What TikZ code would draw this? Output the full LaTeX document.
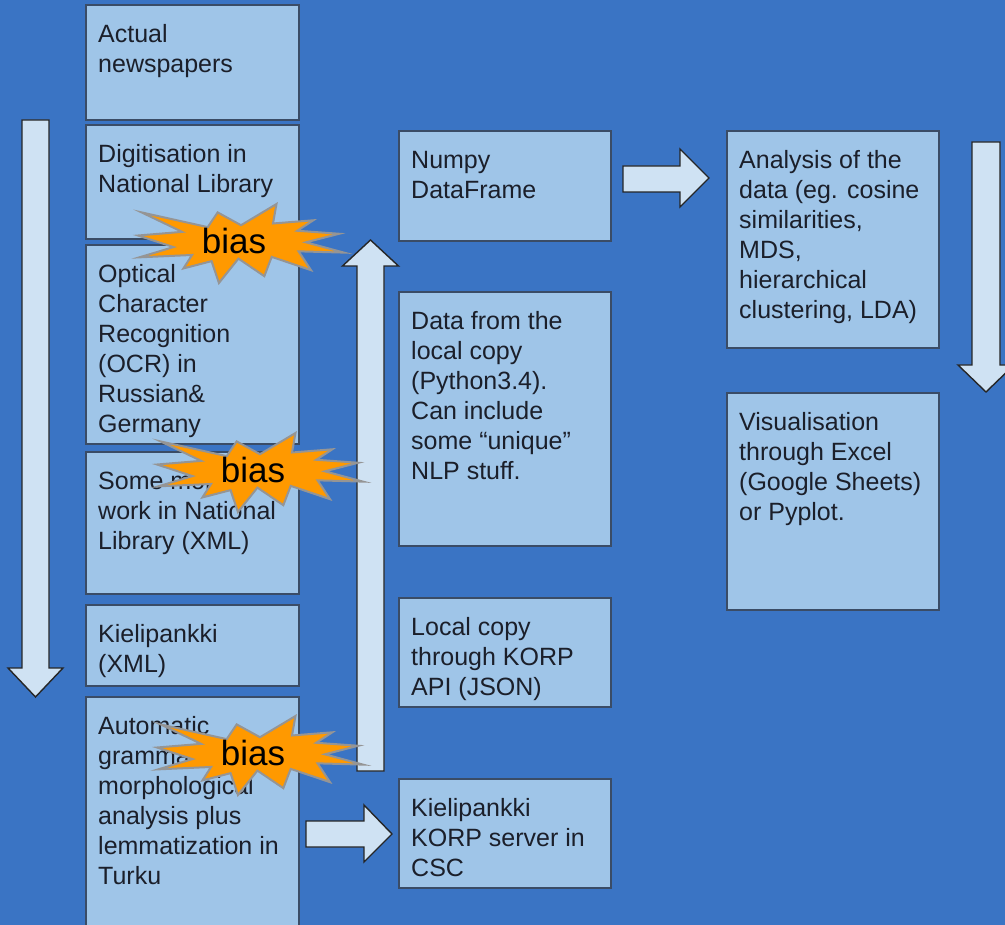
\documentclass[tikz,border=0pt]{standalone}
\usepackage{fontspec}
\setmainfont{Liberation Sans}
\definecolor{slidebg}{HTML}{3A74C4}
\definecolor{cardfill}{HTML}{9FC5E8}
\definecolor{cardline}{HTML}{3A4C66}
\definecolor{arrowfill}{HTML}{CFE2F3}
\definecolor{burstfill}{HTML}{FF9900}
\definecolor{burstline}{HTML}{959595}
\definecolor{ink}{HTML}{1B1F2A}

% a text card: name, left, top, width, height, text
\newcommand\card[6]{%
  \node[card, minimum width=#4pt, minimum height=#5pt] (#1) at (#2,#3) {};
  \node[cardtext] (#1-text) at ([shift={(12pt,-12pt)}]#1.north west) {\rule{0pt}{25pt}#6};
}
% an explosion-shaped "bias" marker: name, left, top
\newcommand\biasburst[3]{%
  \begin{scope}[shift={(#2,#3)}, xscale=206/216, yscale=79/216]
    \draw[burst] (108,58) -- (145.22,0) -- (141.55,53.25) -- (183.8,44.57)
      -- (167.02,73.15) -- (210.97,81.37) -- (176.07,104.75) -- (216,132.9)
      -- (168.37,129.42) -- (181.45,180.95) -- (140.2,144.57) -- (132.47,197.37)
      -- (105.32,149.35) -- (84.85,216) -- (77.15,156.27) -- (47.62,176.17)
      -- (56.67,139.37) -- (1.35,145.87) -- (37.22,117.75) -- (0,86.15)
      -- (46.27,76.17) -- (3.7,22.95) -- (73.12,63.2) -- (83.52,22.95) -- cycle;
  \end{scope}
  \node[bursttext] (#1) at (#2+96,#3+49.5) {bias};
}

\begin{document}
\begin{tikzpicture}[x=1pt,y=-1pt,
  card/.style={rectangle, draw=cardline, fill=cardfill, line width=1.4pt,
    inner sep=0pt, outer sep=0pt, anchor=north west},
  cardtext/.style={anchor=north west, inner sep=0pt, align=left, text=ink,
    font=\fontsize{25}{30}\selectfont},
  blockarrow/.style={draw=black!85, fill=arrowfill, line width=1.4pt, line join=miter},
  burst/.style={draw=burstline, fill=burstfill, line width=2pt, line join=miter},
  bursttext/.style={font=\fontsize{35}{40}\selectfont, text=black, anchor=base, inner sep=0pt}]

\useasboundingbox (0,0) rectangle (1005,925);
\clip (0,0) rectangle (1005,925);
\fill[slidebg] (0,0) rectangle (1005,925);

% left column: from paper to annotated corpus
\card{news}{86}{5}{213}{115}{Actual\\newspapers}
\card{digit}{86}{125}{213}{114}{Digitisation in\\National Library}
\card{ocr}{86}{245}{213}{199}{Optical\\Character\\Recognition\\(OCR) in\\Russian\&\\Germany}
\card{xmlwork}{86}{452}{213}{142}{Some more\\work in National\\Library (XML)}
\card{kpxml}{86}{605}{213}{81}{Kielipankki\\(XML)}
\card{turku}{86}{697}{213}{240}{Automatic\\grammatical,\\morphological\\analysis plus\\lemmatization in\\Turku}

% middle column
\card{numpy}{399}{131}{212}{110}{Numpy\\DataFrame}
\card{local}{399}{292}{212}{254}{Data from the\\local copy\\(Python3.4).\\Can include\\some “unique”\\NLP stuff.}
\card{korpapi}{399}{598}{212}{109}{Local copy\\through KORP\\API (JSON)}
\card{korpsrv}{399}{779}{212}{109}{Kielipankki\\KORP server in\\CSC}

% right column
\card{analysis}{727}{131}{212}{217}{Analysis of the\\data (eg. cosine\\similarities,\\MDS,\\hierarchical\\clustering, LDA)}
\card{vis}{727}{393}{212}{217}{Visualisation\\through Excel\\(Google Sheets)\\or Pyplot.}

% block arrows
\draw[blockarrow] (22,120) -- (49,120) -- (49,668) -- (63,668) -- (35.5,697)
  -- (8,668) -- (22,668) -- cycle;
\draw[blockarrow] (357,771) -- (384,771) -- (384,266) -- (398.5,266) -- (370.5,240)
  -- (342.5,266) -- (357,266) -- cycle;
\draw[blockarrow] (623,166) -- (680,166) -- (680,149) -- (709,178) -- (680,207)
  -- (680,192) -- (623,192) -- cycle;
\draw[blockarrow] (306,821) -- (364,821) -- (364,805) -- (392,834) -- (364,862)
  -- (364,847) -- (306,847) -- cycle;
\draw[blockarrow] (972,142) -- (1000,142) -- (1000,365) -- (1014,365) -- (986,392)
  -- (958,365) -- (972,365) -- cycle;

% bias markers
\biasburst{biasA}{138}{204}
\biasburst{biasB}{157}{433}
\biasburst{biasC}{157}{716}

\end{tikzpicture}
\end{document}
